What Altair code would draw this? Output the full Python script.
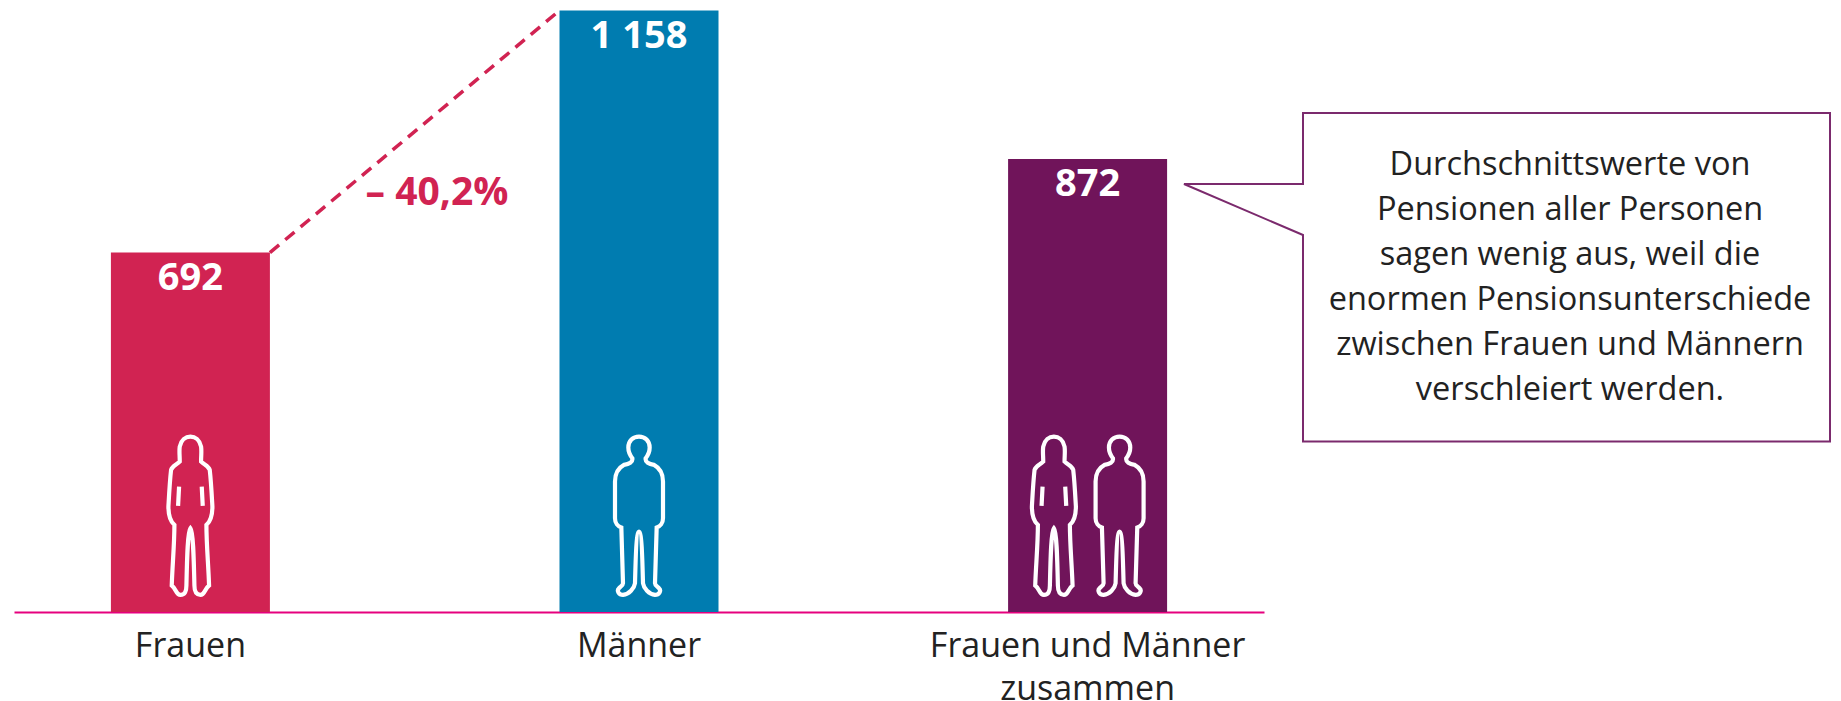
import altair as alt
import pandas as pd

categories = ["Frauen", "Männer", "Frauen und Männer zusammen"]
values = [692, 1158, 872]
value_labels = ["692", "1 158", "872"]
bar_colors = ["#D12352", "#007CB0", "#70145A"]
gap_label = "– 40,2%"
callout_lines = [
    "Durchschnittswerte von",
    "Pensionen aller Personen",
    "sagen wenig aus, weil die",
    "enormen Pensionsunterschiede",
    "zwischen Frauen und Männern",
    "verschleiert werden.",
]

FONT = "Open Sans"
TEXT = "#222222"
y_max = 604 / 0.5194
df = pd.DataFrame({"cat": categories, "v": values, "lab": value_labels, "col": bar_colors})

x_scale = alt.Scale(domain=categories, range=[6, 1256], paddingInner=0.6455, paddingOuter=0.216)
x = alt.X("cat:N", scale=x_scale, sort=categories, title=None,
          axis=alt.Axis(domainColor="#E6007E", domainWidth=2, ticks=False, labelAngle=0,
                        labelFont=FONT, labelFontSize=34, labelColor=TEXT, labelLimit=600,
                        labelPadding=17, labelLineHeight=43, labelBaseline="top", grid=False,
                        labelExpr="datum.value == 'Frauen und Männer zusammen' ? ['Frauen und Männer', 'zusammen'] : datum.label"))
y_scale = alt.Scale(domain=[0, y_max], range=[604, 0], nice=False)
y = alt.Y("v:Q", scale=y_scale, axis=None)

bars = alt.Chart(df).mark_bar(width=159).encode(x=x, y=y, color=alt.Color("col:N", scale=None))
labels = alt.Chart(df).mark_text(font=FONT, fontWeight="bold", fontSize=38, color="white",
                                 baseline="top", dy=7).encode(x=x, y=y, text="lab:N")

# dashed gap line between the top corners of the first two bars
gap_df = pd.DataFrame({"cat": [categories[0]], "cat2": [categories[1]],
                       "v": [values[0]], "v2": [values[1]]})
gap = alt.Chart(gap_df).mark_rule(color="#D12352", strokeWidth=3.5, strokeDash=[12, 8],
                                  xOffset=79.5, x2Offset=-79.5).encode(
    x=x, x2="cat2:N", y=y, y2="v2:Q")
gap_text = alt.Chart(pd.DataFrame({"t": [gap_label]})).mark_text(
    font=FONT, fontWeight="bold", fontSize=39, color="#D12352", baseline="alphabetic").encode(
    x=alt.value(429), y=alt.value(197), text="t:N")

WOMAN = ("M0,40 C8,50 10,120 12,212 C12,228 16,240 30,240 C44,240 42,222 56,212 "
         "C54,150 48,90 48,30 C60,20 66,0 66,-25 C64,-60 62,-100 58,-135 "
         "C54,-148 42,-150 32,-160 C32,-180 34,-190 32,-205 C28,-225 14,-235 0,-235 "
         "C-14,-235 -28,-225 -32,-205 C-34,-190 -32,-180 -32,-160 "
         "C-42,-150 -54,-148 -58,-135 C-62,-100 -64,-60 -66,-25 C-66,0 -60,20 -48,30 "
         "C-48,90 -54,150 -56,212 C-42,222 -44,240 -30,240 C-16,240 -12,228 -12,212 "
         "C-10,120 -8,50 0,40 Z "
         "M-34,-85 L-37,-27 M34,-85 L37,-27")
MAN = ("M0,50 C8,50 10,130 12,205 C14,220 30,238 48,240 C60,240 68,228 60,220 "
       "C55,215 48,212 48,205 L53,38 C63,35 72,25 72,10 L72,-100 C72,-130 60,-142 45,-150 "
       "C30,-152 18,-158 20,-170 C28,-180 32,-188 32,-202 C32,-222 18,-235 0,-235 "
       "C-18,-235 -32,-222 -32,-202 C-32,-188 -28,-180 -20,-170 C-18,-158 -30,-152 -45,-150 "
       "C-60,-142 -72,-130 -72,-100 L-72,10 C-72,25 -63,35 -53,38 L-48,205 "
       "C-48,212 -55,215 -60,220 C-68,228 -60,240 -48,240 C-30,238 -14,220 -12,205 "
       "C-10,130 -8,50 0,50 Z")
FIG_SIZE = (2 / 3) ** 2
fig_y = 187


def figure(cat, path, off=0):
    return alt.Chart(pd.DataFrame({"cat": [cat], "v": [fig_y]})).mark_point(
        shape=path, size=FIG_SIZE, filled=False, stroke="white", strokeWidth=4.2, opacity=1,
        xOffset=off).encode(x=x, y=y)


figures = [figure(categories[0], WOMAN), figure(categories[1], MAN),
           figure(categories[2], WOMAN, -33.7), figure(categories[2], MAN, 32)]

# right edge kept inside the page: the page scales down if the drawing gets wider
CALLOUT = "M-119,-72 L0,-72 L0,-143 L527,-143 L527,185.5 L0,185.5 L0,-21 Z"
callout = alt.Chart(pd.DataFrame({"a": [0]})).mark_point(
    shape=CALLOUT, size=4, filled=True, fill="white", stroke="#7B2A6D", strokeWidth=2,
    opacity=1).encode(x=alt.value(1295), y=alt.value(248))
callout_text = alt.Chart(pd.DataFrame({"a": [0]})).mark_text(
    text=callout_lines, font=FONT, fontSize=32.5, color=TEXT, lineHeight=45,
    baseline="top", align="center").encode(x=alt.value(1562), y=alt.value(141))

chart = alt.layer(bars, gap, labels, gap_text, *figures, callout, callout_text).properties(
    width=1825, height=604, padding={"left": 0, "top": 0, "right": 0, "bottom": 88},
    autosize=alt.AutoSizeParams(type="none"),
).configure_view(stroke=None)

chart.save("out.html", embed_options={"renderer": "svg", "actions": False})
